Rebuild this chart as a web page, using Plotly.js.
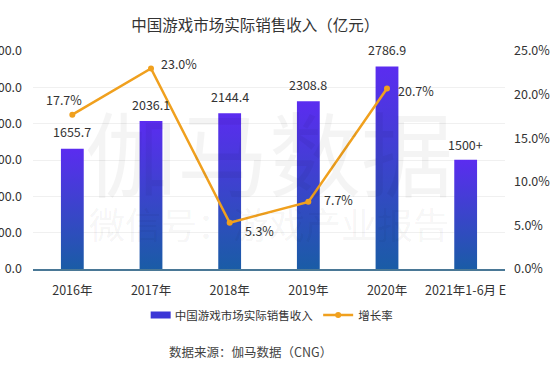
<!DOCTYPE html>
<html>
<head>
<meta charset="utf-8">
<script src="https://cdn.plot.ly/plotly-3.0.1.min.js"></script>
<style>
html,body{margin:0;padding:0;background:#fff;}
#chart{width:555px;height:370px;}
</style>
</head>
<body>
<div id="chart"></div>
<script>
var categories = ["2016年", "2017年", "2018年", "2019年", "2020年", "2021年1-6月 E"];
var revenue = [1655.7, 2036.1, 2144.4, 2308.8, 2786.9, 1504.9];
var revenueLabels = ["1655.7", "2036.1", "2144.4", "2308.8", "2786.9", "1500+"];
var growth = [17.7, 23.0, 5.3, 7.7, 20.7, null];
var growthLabels = ["17.7%", "23.0%", "5.3%", "7.7%", "20.7%", ""];

// label placement offsets (px) relative to each growth point
var growthDx = [-8, 28, 30, 30, 29, 0];
var growthDy = [15, 5, -8, 2, -2, 0];

var FONT = "'Noto Sans CJK SC', 'Noto Sans', sans-serif";
var LABEL_FONT = {family: FONT, size: 12.5, color: "#333"};

var traces = [
  {
    type: "bar",
    name: "中国游戏市场实际销售收入",
    x: categories,
    y: revenue,
    marker: {color: "#3b36d6", line: {width: 0}},
    hoverinfo: "skip"
  },
  {
    type: "scatter",
    mode: "lines+markers",
    name: "增长率",
    x: categories,
    y: growth,
    yaxis: "y2",
    cliponaxis: false,
    line: {color: "#f0a01e", width: 2.5},
    marker: {color: "#f0a01e", size: 6},
    hoverinfo: "skip"
  }
];

var annotations = [
  {
    text: "伽马数据",
    xref: "paper", yref: "paper",
    x: 0.5, y: 0.55, xanchor: "center", yanchor: "middle",
    showarrow: false,
    font: {family: FONT, size: 92, color: "rgba(0,0,0,0.045)"}
  },
  {
    text: "微信号：游戏产业报告",
    xref: "paper", yref: "paper",
    x: 0.5, y: 0.21, xanchor: "center", yanchor: "middle",
    showarrow: false,
    font: {family: FONT, size: 36, color: "rgba(0,0,0,0.05)"}
  },
  {
    text: "数据来源：伽马数据（CNG）",
    xref: "paper", yref: "paper",
    x: 0.46, y: -0.38, xanchor: "center", yanchor: "middle",
    showarrow: false,
    font: {family: FONT, size: 12.5, color: "#444"}
  }
];

categories.forEach(function(c, i){
  annotations.push({
    text: revenueLabels[i],
    x: c, y: revenue[i], xref: "x", yref: "y",
    xanchor: "center", yanchor: "middle",
    yshift: (i === 5 ? 15 : 17),
    showarrow: false,
    font: LABEL_FONT
  });
  if (growth[i] !== null) {
    annotations.push({
      text: growthLabels[i],
      x: c, y: growth[i], xref: "x", yref: "y2",
      xanchor: "center", yanchor: "middle",
      xshift: growthDx[i], yshift: growthDy[i],
      showarrow: false,
      font: LABEL_FONT
    });
  }
});

var layout = {
  width: 555,
  height: 370,
  paper_bgcolor: "#ffffff",
  plot_bgcolor: "#ffffff",
  font: {family: FONT, color: "#444", size: 12},
  margin: {l: 33, r: 50, t: 51, b: 101},
  bargap: 0.71,
  showlegend: true,
  title: {
    text: "中国游戏市场实际销售收入（亿元）",
    font: {family: FONT, size: 15.5, color: "#333"},
    x: 0.46, xanchor: "center", y: 0.93, yanchor: "middle"
  },
  xaxis: {
    type: "category",
    showgrid: false,
    showline: true,
    linecolor: "#4a7896",
    linewidth: 1.5,
    ticks: "",
    ticklabelstandoff: 9,
    tickfont: {family: FONT, size: 12.5, color: "#333"},
    fixedrange: true
  },
  yaxis: {
    range: [0, 3000],
    dtick: 500,
    tickformat: ".1f",
    showgrid: true,
    gridcolor: "#f0f0f0",
    zeroline: false,
    showline: false,
    ticks: "",
    ticklabelstandoff: 10,
    tickfont: {family: FONT, size: 12.5, color: "#333"},
    fixedrange: true
  },
  yaxis2: {
    overlaying: "y",
    side: "right",
    range: [0, 25],
    dtick: 5,
    tickformat: ".1f",
    ticksuffix: "%",
    showgrid: false,
    zeroline: false,
    showline: false,
    ticks: "",
    ticklabelstandoff: 8,
    tickfont: {family: FONT, size: 12.5, color: "#333"},
    fixedrange: true
  },
  legend: {
    orientation: "h",
    x: 0.494, xanchor: "center",
    y: -0.145, yanchor: "top",
    font: {family: FONT, size: 11.5, color: "#333"},
    itemwidth: 30,
    tracegroupgap: 0
  },
  annotations: annotations
};

Plotly.newPlot("chart", traces, layout, {displayModeBar: false, staticPlot: true}).then(function(gd){
  var svg = gd.querySelector(".main-svg");
  var ns = "http://www.w3.org/2000/svg";
  var defs = svg.querySelector("defs");
  if (!defs) { defs = document.createElementNS(ns, "defs"); svg.insertBefore(defs, svg.firstChild); }
  var grad = document.createElementNS(ns, "linearGradient");
  grad.setAttribute("id", "barGrad");
  grad.setAttribute("x1", "0"); grad.setAttribute("y1", "0");
  grad.setAttribute("x2", "0"); grad.setAttribute("y2", "1");
  var s1 = document.createElementNS(ns, "stop");
  s1.setAttribute("offset", "0%"); s1.setAttribute("stop-color", "#5b2cf0");
  var s2 = document.createElementNS(ns, "stop");
  s2.setAttribute("offset", "100%"); s2.setAttribute("stop-color", "#1a5ca6");
  grad.appendChild(s1); grad.appendChild(s2);
  defs.appendChild(grad);
  gd.querySelectorAll(".barlayer .point path").forEach(function(p){
    p.style.fill = "url(#barGrad)";
  });
  // wider, flatter legend swatch for the bar series
  gd.querySelectorAll(".legend .legendpoints path.legendundefined, .legend .legendbar path").forEach(function(p){
    p.setAttribute("d", "M-4,-3.5h20v7h-20z");
  });
});
</script>
</body>
</html>
